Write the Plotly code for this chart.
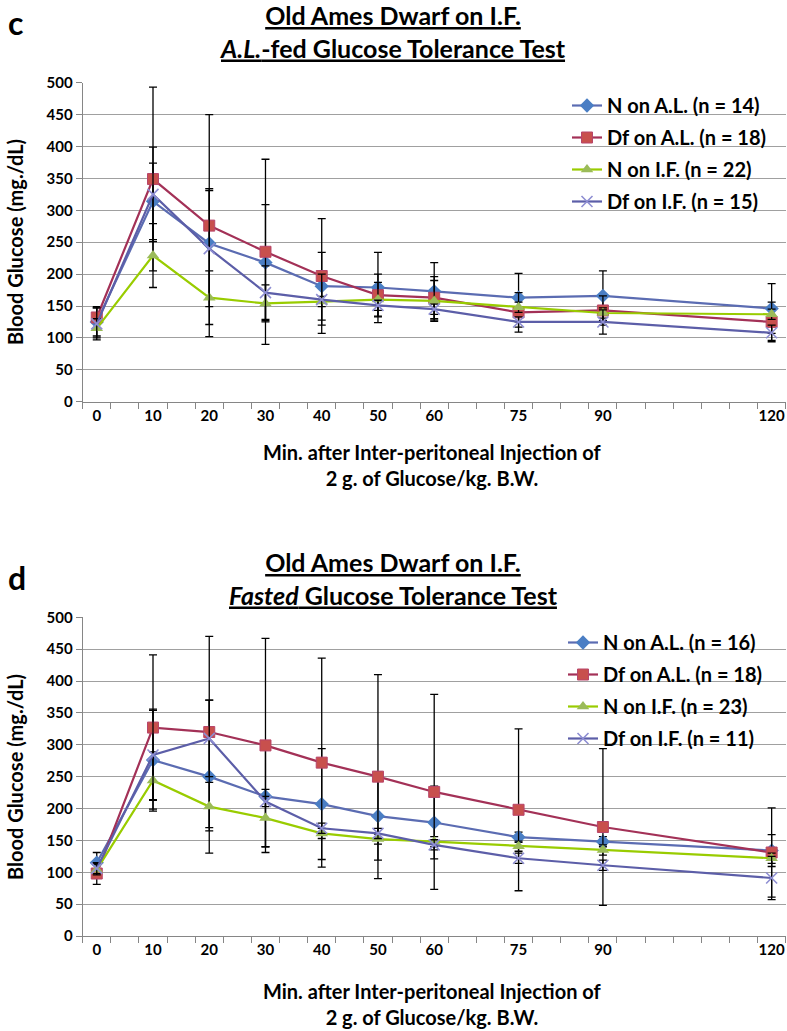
import plotly.graph_objects as go

# ---------------- data ----------------
minutes = [0, 10, 20, 30, 40, 50, 60, 75, 90, 120]
tick_labels = ["0", "10", "20", "30", "40", "50", "60", "75", "90", "120"]
y_ticks = [0, 50, 100, 150, 200, 250, 300, 350, 400, 450, 500]

series_names_c = ["N on A.L. (n = 14)", "Df on A.L. (n = 18)", "N on I.F. (n = 22)", "Df on I.F. (n = 15)"]
series_names_d = ["N on A.L. (n = 16)", "Df on A.L. (n = 18)", "N on I.F. (n = 23)", "Df on I.F. (n = 11)"]

# panel c : A.L.-fed GTT
n_al_c = [125, 314, 248, 218, 181, 179, 173, 163, 166, 146]
n_al_c_err = [22, 60, 86, 91, 53, 55, 45, 38, 39, 39]
df_al_c = [132, 349, 276, 235, 197, 167, 163, 140, 143, 125]
df_al_c_err = [17, 144, 174, 145, 90, 33, 33, 31, 23, 31]
n_if_c = [115, 229, 163, 154, 157, 160, 158, 148, 139, 137]
n_if_c_err = [15, 50, 42, 29, 8, 27, 32, 8, 8, 8]
df_if_c = [122, 325, 240, 171, 160, 151, 145, 125, 125, 108]
df_if_c_err = [25, 74, 91, 42, 40, 8, 8, 8, 19, 12]

# panel d : Fasted GTT
n_al_d = [115, 276, 250, 219, 207, 188, 178, 155, 148, 134]
n_al_d_err = [16, 80, 120, 79, 87, 69, 57, 8, 8, 25]
df_al_d = [98, 327, 320, 299, 272, 250, 226, 198, 171, 131]
df_al_d_err = [17, 114, 150, 168, 164, 160, 153, 127, 123, 70]
n_if_d = [104, 244, 203, 185, 161, 152, 148, 141, 135, 122]
n_if_d_err = [8, 45, 38, 45, 8, 8, 8, 8, 8, 8]
df_if_d = [106, 284, 310, 211, 169, 161, 143, 122, 111, 91]
df_if_d_err = [8, 70, 60, 8, 8, 8, 8, 8, 8, 34]

# ---------------- styles ----------------
FONT = "Lato"
W, H = 787, 1031
styles = [
    dict(line="#5B6CB2", marker=dict(symbol="diamond", size=11, color="#4A7EC4", line=dict(width=0))),
    dict(line="#A33157", marker=dict(symbol="square", size=11, color="#C8504D", line=dict(width=1, color="#B8446A"))),
    dict(line="#99CC00", marker=dict(symbol="triangle-up", size=11, color="#9BBB59", line=dict(width=0))),
    dict(line="#5C5EA8", marker=dict(symbol="x-thin", size=11, color="#8E8ED2", line=dict(width=1.6, color="#8E8ED2"))),
]

fig = go.Figure()

def add_panel(vals, errs, names, xa, ya, legend):
    for i, (v, e, nm) in enumerate(zip(vals, errs, names)):
        st = styles[i]
        fig.add_trace(go.Scatter(
            x=minutes, y=v, name=nm, mode="lines+markers",
            xaxis=xa, yaxis=ya, legend=legend, legendgroup=f"{legend}{i}",
            line=dict(color=st["line"], width=2.2),
            marker=st["marker"],
            error_y=dict(type="data", array=e, visible=True, color="black",
                         thickness=1.3, width=4),
            cliponaxis=False,
        ))

add_panel([n_al_c, df_al_c, n_if_c, df_if_c], [n_al_c_err, df_al_c_err, n_if_c_err, df_if_c_err],
          series_names_c, "x", "y", "legend")
add_panel([n_al_d, df_al_d, n_if_d, df_if_d], [n_al_d_err, df_al_d_err, n_if_d_err, df_if_d_err],
          series_names_d, "x2", "y2", "legend2")

x_left, x_right = 82.7, 785.7
xdom = [x_left / W, x_right / W]

def px_y(p):
    return 1 - p / H

xaxis_common = dict(
    range=[-2.5, 122.5], tickmode="array", tickvals=minutes, ticktext=tick_labels,
    ticks="", showgrid=False, zeroline=False, showline=True, linecolor="#868686", linewidth=1,
    tickfont=dict(family=FONT, size=15, color="black", weight="bold"),
    minor=dict(tickmode="linear", tick0=-2.5, dtick=5, ticks="outside", ticklen=6,
               tickcolor="#868686", tickwidth=1, showgrid=False),
    automargin=False, fixedrange=True,
)
yaxis_common = dict(
    range=[0, 500], tickmode="array", tickvals=y_ticks, ticks="outside", ticklen=6,
    tickcolor="#868686", showgrid=True, gridcolor="#A0A0A0", gridwidth=1, zeroline=False,
    showline=True, linecolor="#868686", linewidth=1,
    tickfont=dict(family=FONT, size=15, color="black", weight="bold"),
    automargin=False, fixedrange=True,
)

legend_common = dict(
    font=dict(family=FONT, size=20, color="black", weight="bold"),
    bgcolor="rgba(0,0,0,0)", xanchor="left", yanchor="top", tracegroupgap=3,
    itemwidth=30,
)

fig.update_layout(
    width=W, height=H, margin=dict(l=0, r=0, t=0, b=0),
    paper_bgcolor="white", plot_bgcolor="white",
    showlegend=True,
    xaxis=dict(domain=xdom, anchor="y", **xaxis_common),
    yaxis=dict(domain=[px_y(401.7), px_y(82.7)], anchor="x", **yaxis_common),
    xaxis2=dict(domain=xdom, anchor="y2", **xaxis_common),
    yaxis2=dict(domain=[px_y(936), px_y(617.3)], anchor="x2", **yaxis_common),
    legend=dict(x=567 / W, y=px_y(86), **legend_common),
    legend2=dict(x=563 / W, y=px_y(623), **legend_common),
)

def ann(text, x, y, size, angle=0, xanchor="center"):
    fig.add_annotation(text=text, x=x / W, y=px_y(y), xref="paper", yref="paper",
                       showarrow=False, xanchor=xanchor, yanchor="middle", textangle=angle,
                       font=dict(family=FONT, size=size, color="black", weight="bold"))

xtitle = "Min. after Inter-peritoneal Injection of<br>2 g. of Glucose/kg. B.W."

# panel c texts
ann("c", 6, 22, 32, xanchor="left")
ann("<u>Old Ames Dwarf on I.F.</u><br><u><i>A.L.</i>-fed Glucose Tolerance Test</u>", 393, 31.5, 25)
ann("Blood Glucose (mg./dL)", 15, 242, 20, angle=-90)
ann(xtitle, 432, 465.5, 20)

# panel d texts
ann("d", 6, 577, 32, xanchor="left")
ann("<u>Old Ames Dwarf on I.F.</u><br><u><i>Fasted</i> Glucose Tolerance Test</u>", 393, 578, 25)
ann("Blood Glucose (mg./dL)", 15, 777, 20, angle=-90)
ann(xtitle, 432, 1004, 20)

fig.write_html("out.html", config={"displayModeBar": False},
               post_script="document.body.style.margin='0';")
